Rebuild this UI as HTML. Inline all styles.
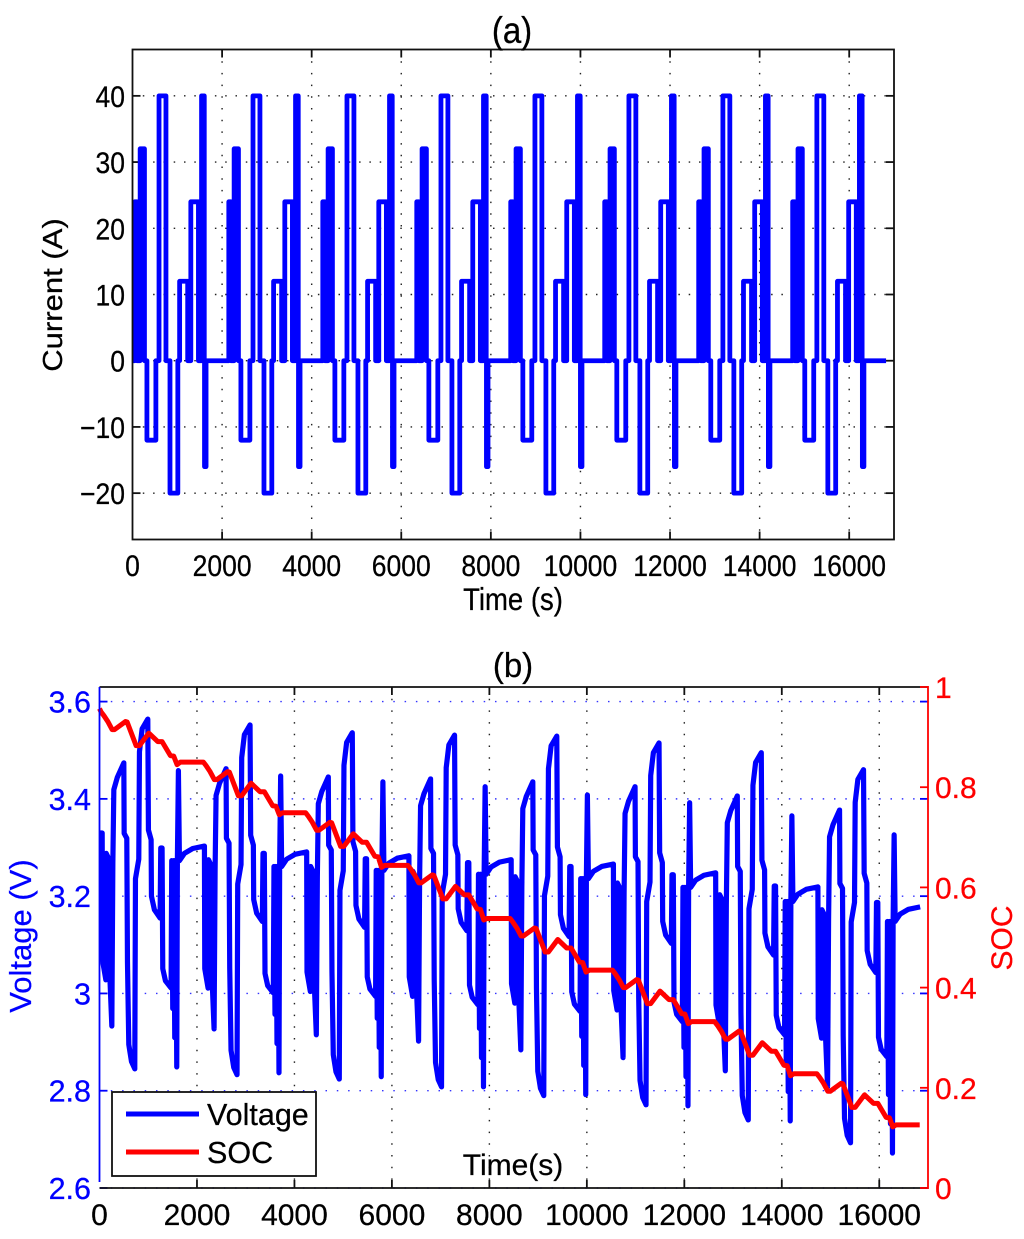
<!DOCTYPE html>
<html lang="en">
<head>
<meta charset="utf-8">
<title>Current, voltage and SOC profile</title>
<style>
html,body{margin:0;padding:0;background:#fff;width:1024px;height:1239px;overflow:hidden}
svg{display:block;font-family:"Liberation Sans",Arial,sans-serif}
text{stroke-width:.25px}
</style>
</head>
<body>
<svg id="figure" xmlns="http://www.w3.org/2000/svg" width="1024" height="1239" viewBox="0 0 1024 1239">
  <rect x="0" y="0" width="1024" height="1239" fill="#fff"/>
  <g id="panelA"></g>
  <g id="panelB"></g>
  <g id="legend">
    <rect x="112" y="1092" width="204" height="84" fill="#fff" stroke="#111" stroke-width="1.8"/>
    <line x1="126" x2="199" y1="1114" y2="1114" stroke="#0000ff" stroke-width="5"/>
    <text x="207" y="1125" font-size="30.5" fill="#000" stroke="#000">Voltage</text>
    <line x1="126" x2="199" y1="1152" y2="1152" stroke="#ff0000" stroke-width="5"/>
    <text x="207" y="1163" font-size="30.5" fill="#000" stroke="#000">SOC</text>
  </g>
</svg>
<script>
// ---- chart (a): current ----
const currentXTicks = [0, 2000, 4000, 6000, 8000, 10000, 12000, 14000, 16000];
const currentYTicks = [-20, -10, 0, 10, 20, 30, 40];
const currentCycleStarts = [52, 2150, 4248, 6346, 8444, 10542, 12640, 14738];
const currentStepTimes = [0, 45, 119, 215, 270, 470, 540, 695, 785, 960, 1000, 1180, 1250, 1420, 1490, 1550, 1556, 1590];
const currentStepAmps = [24, 0, 32, 0, -12, 0, 40, 0, -20, 0, 12, 0, 24, 0, 40, 0, -16, 0];
const currentEndTime = [16823];

// ---- chart (b): voltage and SOC ----
const timeTicks = [0, 2000, 4000, 6000, 8000, 10000, 12000, 14000, 16000];
const voltageTicks = [2.6, 2.8, 3, 3.2, 3.4, 3.6];
const voltageTickLabels = ['2.6', '2.8', '3', '3.2', '3.4', '3.6'];
const socTicks = [0, 0.2, 0.4, 0.6, 0.8, 1];
const voltageCycleStarts = [55, 2153, 4251, 6349, 8447, 10545, 12643, 14741];
const voltageOffsets = [0,7,75,82,130,150,198,219,239,310,444,451,505,519,546,601,669,683,751,765,820,936,949,1004,1011,1072,1188,1202,1229,1243,1298,1414,1427,1448,1468,1489,1509,1530,1543,1564,1585,1687,1858,2098];
const voltageCycle1 = [3.330,3.068,3.028,3.288,3.278,3.053,2.933,3.268,3.419,3.444,3.474,3.329,3.319,3.065,2.895,2.860,2.845,3.236,3.276,3.497,3.544,3.564,3.336,3.316,3.200,3.172,3.155,3.299,3.299,3.051,3.026,3.011,3.273,2.969,3.273,2.909,3.273,2.849,3.273,3.458,3.273,3.288,3.298,3.303];
const voltageCycle2 = [3.303,3.051,3.011,3.275,3.265,3.047,2.927,3.255,3.407,3.432,3.462,3.319,3.309,3.053,2.883,2.848,2.833,3.225,3.265,3.485,3.532,3.552,3.325,3.305,3.193,3.165,3.148,3.288,3.288,3.041,3.016,3.001,3.261,2.957,3.261,2.897,3.261,2.837,3.261,3.447,3.261,3.276,3.286,3.291];
const voltageCycle3 = [3.291,3.044,3.004,3.261,3.251,3.035,2.915,3.241,3.390,3.415,3.445,3.305,3.295,3.044,2.874,2.839,2.824,3.212,3.252,3.469,3.516,3.536,3.312,3.292,3.181,3.153,3.136,3.277,3.277,3.034,3.009,2.994,3.253,2.949,3.253,2.889,3.253,2.829,3.253,3.435,3.253,3.268,3.278,3.283];
const voltageCycle4 = [3.283,3.034,2.994,3.251,3.241,3.022,2.902,3.231,3.386,3.411,3.441,3.298,3.288,3.028,2.858,2.823,2.808,3.205,3.245,3.464,3.511,3.531,3.305,3.285,3.174,3.146,3.129,3.269,3.269,3.017,2.992,2.977,3.245,2.928,3.245,2.868,3.245,2.808,3.245,3.425,3.245,3.260,3.270,3.275];
const voltageCycle5 = [3.275,3.020,2.980,3.240,3.230,3.004,2.884,3.220,3.380,3.405,3.435,3.295,3.285,3.010,2.840,2.805,2.790,3.201,3.241,3.462,3.509,3.529,3.301,3.281,3.162,3.134,3.117,3.261,3.261,3.003,2.978,2.963,3.236,2.912,3.236,2.852,3.236,2.792,3.236,3.408,3.236,3.251,3.261,3.266];
const voltageCycle6 = [3.266,3.006,2.966,3.227,3.217,2.988,2.868,3.207,3.370,3.395,3.425,3.281,3.271,2.991,2.821,2.786,2.771,3.189,3.229,3.448,3.495,3.515,3.289,3.269,3.148,3.120,3.103,3.244,3.244,2.982,2.957,2.942,3.218,2.889,3.218,2.829,3.218,2.769,3.218,3.392,3.218,3.233,3.243,3.248];
const voltageCycle7 = [3.248,2.976,2.936,3.203,3.193,2.961,2.841,3.183,3.351,3.376,3.406,3.261,3.251,2.960,2.790,2.755,2.740,3.174,3.214,3.428,3.475,3.495,3.274,3.254,3.124,3.096,3.079,3.221,3.221,2.955,2.930,2.915,3.189,2.858,3.189,2.798,3.189,2.738,3.189,3.365,3.189,3.204,3.214,3.219];
const voltageCycle8 = [3.219,2.948,2.908,3.172,3.162,2.928,2.808,3.152,3.322,3.347,3.377,3.226,3.216,2.913,2.743,2.708,2.693,3.147,3.187,3.393,3.440,3.460,3.247,3.227,3.088,3.060,3.043,3.187,3.187,2.910,2.885,2.870,3.148,2.792,3.148,2.732,3.148,2.672,3.148,3.326,3.148,3.163,3.173,3.178];
const voltageCycles = [voltageCycle1, voltageCycle2, voltageCycle3, voltageCycle4, voltageCycle5, voltageCycle6, voltageCycle7, voltageCycle8];
const voltageStart = [3.33];

const socCycleStarts = [34, 2132, 4230, 6328, 8426, 10524, 12622, 14720];
const socOffsets = [0,55,137,225,273,499,533,717,785,977,1161,1250,1421,1489,1557,1625];
const socCycle1 = [.950,.943,.931,.915,.915,.931,.930,.883,.883,.908,.891,.891,.863,.862,.845,.850];
const socCycle2 = [.850,.843,.831,.815,.815,.831,.830,.783,.783,.808,.791,.791,.763,.762,.745,.749];
const socCycle3 = [.749,.742,.730,.714,.714,.730,.729,.682,.682,.707,.690,.690,.662,.661,.640,.644];
const socCycle4 = [.644,.637,.625,.609,.609,.625,.624,.577,.577,.602,.585,.585,.557,.556,.535,.538];
const socCycle5 = [.538,.531,.519,.503,.503,.519,.518,.471,.471,.496,.479,.479,.451,.450,.431,.435];
const socCycle6 = [.435,.428,.416,.400,.400,.416,.415,.368,.368,.393,.376,.376,.348,.347,.328,.332];
const socCycle7 = [.332,.325,.313,.297,.297,.313,.312,.265,.265,.290,.273,.273,.245,.244,.224,.228];
const socCycle8 = [.228,.221,.209,.193,.193,.209,.208,.161,.161,.186,.169,.169,.141,.140,.122,.126];
const socCycles = [socCycle1, socCycle2, socCycle3, socCycle4, socCycle5, socCycle6, socCycle7, socCycle8];
const socStart = [0.957];
const socEnd = [16830, 0.126];

const NS = 'http://www.w3.org/2000/svg';
const panelA = document.getElementById('panelA');
const panelB = document.getElementById('panelB');

// axis functions
function xA(t) { return 132.5 + (t / 17000) * (894 - 132.5); }
function yA(v) { return 539.5 - ((v + 27) / 74) * (539.5 - 49.5); }
function xB(t) { return 99.5 + (t / 17000) * (928 - 99.5); }
function yV(v) { return 1188 - ((v - 2.6) / 1.03) * (1188 - 687); }
function yS(v) { return 1188 - v * (1188 - 687); }

function makeLine(parent, name, x1, y1, x2, y2, color, width, dash) {
  const el = document.createElementNS(NS, 'line');
  
  
  el.setAttribute('x1', x1);
  el.setAttribute('y1', y1);
  el.setAttribute('x2', x2);
  el.setAttribute('y2', y2);
  el.setAttribute('stroke', color);
  el.setAttribute('stroke-width', width);
  if (dash) el.setAttribute('stroke-dasharray', dash);
  parent.appendChild(el);
  return el;
}
function makeText(parent, name, str, x, y, size, color, anchor, sy, rot) {
  const el = document.createElementNS(NS, 'text');
  
  
  el.setAttribute('font-size', size);
  el.setAttribute('fill', color);
  el.setAttribute('stroke', color);
  el.setAttribute('text-anchor', anchor);
  el.setAttribute('transform', 'translate(' + x + ',' + y + ') scale(1,' + sy + ')' + (rot ? ' rotate(' + rot + ')' : ''));
  el.textContent = str;
  parent.appendChild(el);
  return el;
}
function makeSeries(parent, name, pts, color, width) {
  const el = document.createElementNS(NS, 'polyline');
  
  
  el.setAttribute('points', pts.map(function (p) { return p[0].toFixed(2) + ',' + p[1].toFixed(2); }).join(' '));
  el.setAttribute('fill', 'none');
  el.setAttribute('stroke', color);
  el.setAttribute('stroke-width', width);
  el.setAttribute('stroke-linejoin', 'round');
  parent.appendChild(el);
  return el;
}

// ---------- panel (a) ----------
const SY = 1.13;
currentXTicks.forEach(function (t) {
  if (t > 0) makeLine(panelA, 'x-gridline', xA(t), 49.5, xA(t), 539.5, '#222', 1.4, '1.5 10.2');
  if (t > 0) makeLine(panelA, 'x-tick-top', xA(t), 49.5, xA(t), 57.5, '#111', 1.8);
  if (t > 0) makeLine(panelA, 'x-tick-bottom', xA(t), 539.5, xA(t), 531.5, '#111', 1.8);
  makeText(panelA, 'x-tick-label', String(t), xA(t), 576, 26.5, '#000', 'middle', SY);
});
currentYTicks.forEach(function (v) {
  makeLine(panelA, 'y-gridline', 132.5, yA(v), 894, yA(v), '#222', 1.4, '1.5 8.8');
  makeLine(panelA, 'y-tick-left', 132.5, yA(v), 140.5, yA(v), '#111', 1.8);
  makeLine(panelA, 'y-tick-right', 894, yA(v), 886, yA(v), '#111', 1.8);
  makeText(panelA, 'y-tick-label', String(v).replace('-', '\u2212'), 125, yA(v) + 11, 26.5, '#000', 'end', SY);
});
const currentPts = [[xA(0), yA(0)]];
currentCycleStarts.forEach(function (start) {
  let level = 0;
  currentStepTimes.forEach(function (dt, i) {
    currentPts.push([xA(start + dt), yA(level)]);
    level = currentStepAmps[i];
    currentPts.push([xA(start + dt), yA(level)]);
  });
});
currentPts.push([xA(currentEndTime[0]), yA(0)]);
makeSeries(panelA, 'current-line', currentPts, '#0000ff', 4.8);

const frameA = document.createElementNS(NS, 'rect');


frameA.setAttribute('x', 132.5);
frameA.setAttribute('y', 49.5);
frameA.setAttribute('width', 761.5);
frameA.setAttribute('height', 490);
frameA.setAttribute('fill', 'none');
frameA.setAttribute('stroke', '#111');
frameA.setAttribute('stroke-width', 1.8);
panelA.appendChild(frameA);

makeText(panelA, 'current-panel-title', '(a)', 512, 43, 33, '#000', 'middle', SY);
makeText(panelA, 'x-axis-title', 'Time (s)', 513, 610, 27.5, '#000', 'middle', SY);
makeText(panelA, 'y-axis-title', 'Current (A)', 62, 295, 27.5, '#000', 'middle', SY, -90);

// ---------- panel (b) ----------
timeTicks.forEach(function (t) {
  if (t > 0) makeLine(panelB, 'time-gridline', xB(t), 687, xB(t), 1188, '#222', 1.4, '1.5 10.2');
  if (t > 0) makeLine(panelB, 'time-tick-top', xB(t), 687, xB(t), 695, '#111', 1.8);
  if (t > 0) makeLine(panelB, 'time-tick-bottom', xB(t), 1188, xB(t), 1180, '#111', 1.8);
  makeText(panelB, 'time-tick-label', String(t), xB(t), 1225, 30, '#000', 'middle', 1);
});
voltageTicks.forEach(function (v, i) {
  makeLine(panelB, 'voltage-gridline', 99.5, yV(v), 928, yV(v), '#3333ff', 1.4, '1.5 9.8');
  makeLine(panelB, 'voltage-tick-left', 99.5, yV(v), 107.5, yV(v), '#0000ff', 1.8);
  makeLine(panelB, 'voltage-tick-right', 928, yV(v), 920, yV(v), '#0000ff', 1.8);
  makeText(panelB, 'voltage-tick-label', voltageTickLabels[i], 91, yV(v) + 11, 30.5, '#0000ff', 'end', 1);
});
const voltagePts = [[xB(0), yV(voltageStart[0])]];
voltageCycles.forEach(function (row, c) {
  row.forEach(function (v, i) {
    voltagePts.push([xB(voltageCycleStarts[c] + voltageOffsets[i]), yV(v)]);
  });
});
makeSeries(panelB, 'voltage-line', voltagePts, '#0000ff', 5.2);

const socPts = [[xB(0), yS(socStart[0])]];
socCycles.forEach(function (row, c) {
  row.forEach(function (v, i) {
    socPts.push([xB(socCycleStarts[c] + socOffsets[i]), yS(v)]);
  });
});
socPts.push([xB(socEnd[0]), yS(socEnd[1])]);
makeSeries(panelB, 'soc-line', socPts, '#ff0000', 5);

makeLine(panelB, 'top-axis-line', 99.5, 687, 928, 687, '#111', 1.8);
makeLine(panelB, 'bottom-axis-line', 99.5, 1188, 928, 1188, '#111', 1.8);
makeLine(panelB, 'voltage-axis-line', 99.5, 687, 99.5, 1182, '#0000ff', 1.8);
makeLine(panelB, 'soc-axis-line', 928, 686, 928, 1189, '#ff0000', 1.8);
socTicks.forEach(function (v) {
  makeLine(panelB, 'soc-tick', 928, yS(v), 920, yS(v), '#ff0000', 1.8);
  makeText(panelB, 'soc-tick-label', String(v), 935, yS(v) + 11, 30, '#ff0000', 'start', 1);
});

makeText(panelB, 'voltage-panel-title', '(b)', 513, 677, 33, '#000', 'middle', 1.05);
makeText(panelB, 'voltage-axis-title', 'Voltage (V)', 31, 936, 31, '#0000ff', 'middle', 1, -90);
makeText(panelB, 'soc-axis-title', 'SOC', 1012, 938, 30, '#ff0000', 'middle', 1, -90);

// the time label sits over the legend layer, inside the plot
const figure = document.getElementById('figure');
makeText(figure, 'time-axis-title', 'Time(s)', 513, 1175, 30, '#000', 'middle', 1);
</script>
</body>
</html>
